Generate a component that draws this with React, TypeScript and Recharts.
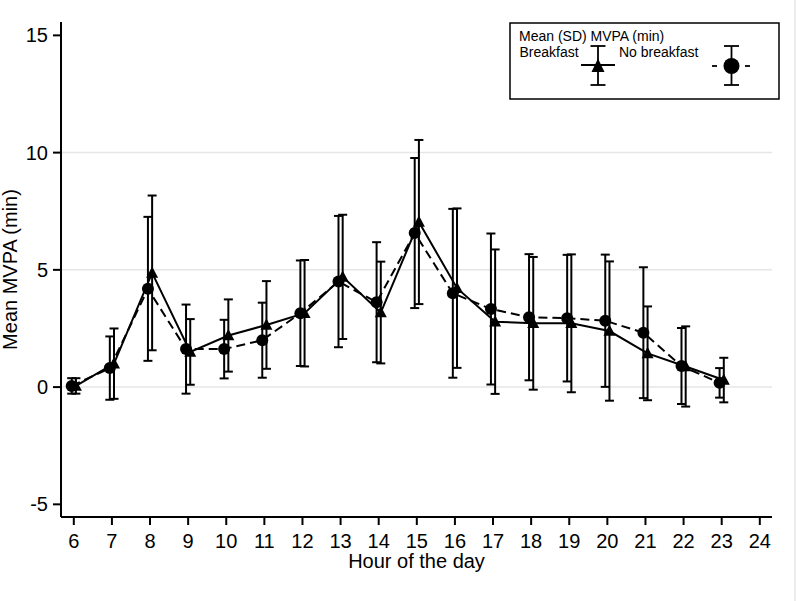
import React from 'react';
import { ComposedChart, Line, XAxis, YAxis, ErrorBar, ReferenceLine, Legend } from 'recharts';

// hour of the day
const hours = [6, 7, 8, 9, 10, 11, 12, 13, 14, 15, 16, 17, 18, 19, 20, 21, 22, 23];

// mean (SD) MVPA minutes, breakfast days
const breakfastMean = [0.05, 1.0, 4.87, 1.5, 2.2, 2.65, 3.15, 4.7, 3.18, 7.04, 4.22, 2.79, 2.72, 2.72, 2.39, 1.44, 0.88, 0.3];
const breakfastSd = [0.33, 1.5, 3.3, 1.4, 1.54, 1.87, 2.27, 2.65, 2.17, 3.5, 3.4, 3.08, 2.83, 2.94, 2.97, 2.0, 1.71, 0.95];

// no breakfast days
const noBreakfastMean = [0.05, 0.81, 4.19, 1.62, 1.62, 2.0, 3.15, 4.5, 3.62, 6.57, 4.0, 3.33, 2.98, 2.94, 2.83, 2.32, 0.9, 0.18];
const noBreakfastSd = [0.33, 1.35, 3.07, 1.9, 1.25, 1.6, 2.25, 2.8, 2.56, 3.2, 3.6, 3.22, 2.69, 2.7, 2.82, 2.79, 1.62, 0.63];

const xTicks = [6, 7, 8, 9, 10, 11, 12, 13, 14, 15, 16, 17, 18, 19, 20, 21, 22, 23, 24];
const yTicks = [-5, 0, 5, 10, 15];
const gridValues = [0, 5, 10];

const FONT = '"Liberation Sans", Arial, sans-serif';
const INK = '#000';

// the two series are nudged apart a little so their bars don't overlap
const SHIFT = 0.055;
const breakfastData = hours.map((h, i) => ({ x: h + SHIFT, y: breakfastMean[i], sd: breakfastSd[i] }));
const noBreakfastData = hours.map((h, i) => ({ x: h - SHIFT, y: noBreakfastMean[i], sd: noBreakfastSd[i] }));

function TriangleDot(props: any) {
  const { cx, cy, index } = props;
  if (cx == null || cy == null) return null;
  return (
    <polygon
      key={`tri-${index}`}
      points={`${cx},${cy - 6.5} ${cx - 6},${cy + 4.8} ${cx + 6},${cy + 4.8}`}
      fill={INK}
    />
  );
}

function CircleDot(props: any) {
  const { cx, cy, index } = props;
  if (cx == null || cy == null) return null;
  return <circle key={`dot-${index}`} cx={cx} cy={cy} r={6} fill={INK} />;
}

function LegendBox() {
  return (
    <svg width={272} height={78} style={{ display: 'block' }}>
      <rect x={1} y={1} width={269} height={76} fill="#fff" stroke={INK} strokeWidth={1.5} />
      <g fontFamily={FONT} fontSize={14} fill={INK}>
        <text x={10} y={19}>Mean (SD) MVPA (min)</text>
        <text x={10.5} y={35}>Breakfast</text>
        <text x={110} y={35}>No breakfast</text>
      </g>
      {/* breakfast key */}
      <g stroke={INK} strokeWidth={1.8}>
        <line x1={89} y1={24} x2={89} y2={63} />
        <line x1={81.5} y1={24} x2={96.5} y2={24} />
        <line x1={81.5} y1={63} x2={96.5} y2={63} />
        <line x1={72} y1={43} x2={106} y2={43} />
      </g>
      <polygon points="89,36.5 82.5,50 95.5,50" fill={INK} />
      {/* no breakfast key */}
      <g stroke={INK} strokeWidth={1.8}>
        <line x1={222.5} y1={24} x2={222.5} y2={63} />
        <line x1={215} y1={24} x2={230} y2={24} />
        <line x1={215} y1={63} x2={230} y2={63} />
        <line x1={203} y1={44} x2={208} y2={44} />
        <line x1={236} y1={44} x2={241} y2={44} />
      </g>
      <circle cx={222.5} cy={44} r={8} fill={INK} />
    </svg>
  );
}

export default function App() {
  return (
    <div style={{ position: 'absolute', left: 0, top: 0, width: 797, height: 601, background: '#fff' }}>
      <ComposedChart width={797} height={601} margin={{ top: 22, right: 25, left: 0, bottom: 0 }}>
        <XAxis
          type="number"
          dataKey="x"
          domain={[5.664, 24.32]}
          allowDataOverflow
          ticks={xTicks}
          interval={0}
          height={84}
          tickSize={8}
          tickMargin={9}
          stroke={INK}
          strokeWidth={2}
          tick={{ fontSize: 20, fill: INK, fontFamily: FONT }}
          label={{ value: 'Hour of the day', position: 'insideTop', offset: 37, fontSize: 20, fill: INK, fontFamily: FONT }}
        />
        <YAxis
          type="number"
          domain={[-5.54, 15.57]}
          allowDataOverflow
          ticks={yTicks}
          interval={0}
          width={61}
          tickSize={8}
          tickMargin={5}
          stroke={INK}
          strokeWidth={2}
          tick={{ fontSize: 20, fill: INK, fontFamily: FONT }}
          label={{
            value: 'Mean MVPA (min)',
            angle: -90,
            position: 'insideLeft',
            offset: 10,
            fontSize: 20,
            fill: INK,
            fontFamily: FONT,
            style: { textAnchor: 'middle' },
          }}
        />
        {gridValues.map((v) => (
          <ReferenceLine key={v} y={v} stroke="#e6e6e6" strokeWidth={1.5} />
        ))}
        <Legend
          layout="horizontal"
          verticalAlign="middle"
          align="center"
          wrapperStyle={{ left: 509, top: 22, width: 272, height: 78 }}
          content={() => <LegendBox />}
        />
        <Line
          data={noBreakfastData}
          dataKey="y"
          name="No breakfast"
          stroke={INK}
          strokeWidth={2}
          strokeDasharray="9 5"
          dot={(p: any) => <CircleDot key={`c-${p.index}`} {...p} />}
          activeDot={false}
          isAnimationActive={false}
        >
          <ErrorBar dataKey="sd" direction="y" width={4.5} stroke={INK} strokeWidth={2} isAnimationActive={false} />
        </Line>
        <Line
          data={breakfastData}
          dataKey="y"
          name="Breakfast"
          stroke={INK}
          strokeWidth={2}
          dot={(p: any) => <TriangleDot key={`t-${p.index}`} {...p} />}
          activeDot={false}
          isAnimationActive={false}
        >
          <ErrorBar dataKey="sd" direction="y" width={4.5} stroke={INK} strokeWidth={2} isAnimationActive={false} />
        </Line>
      </ComposedChart>
      <div style={{ position: 'absolute', left: 794, top: 0, width: 2, height: 601, background: '#ececec' }} />
    </div>
  );
}
